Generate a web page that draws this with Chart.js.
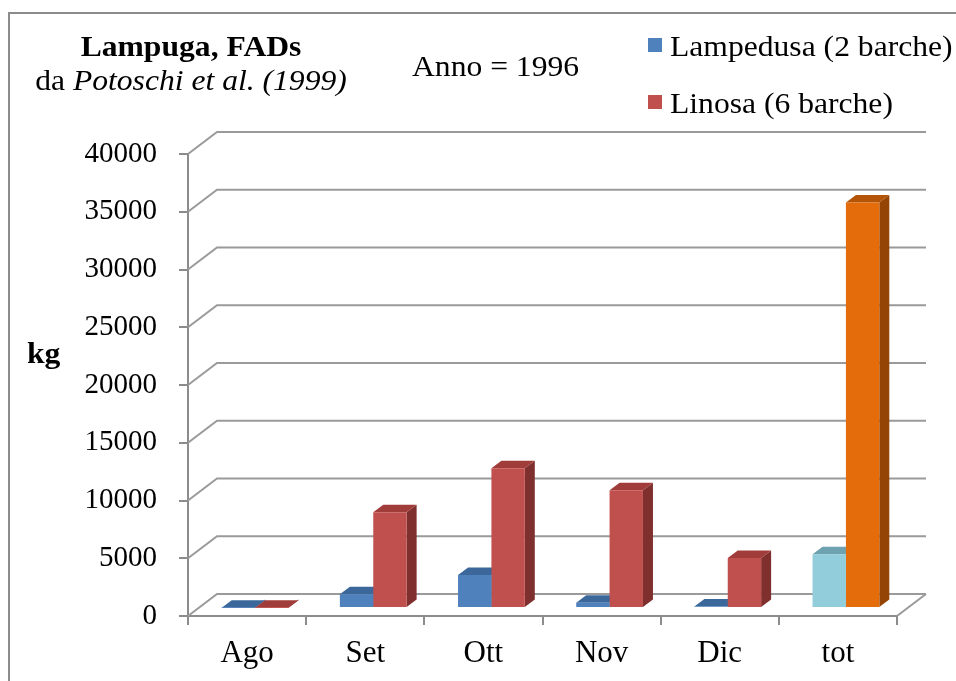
<!DOCTYPE html>
<html lang="it">
<head>
<meta charset="UTF-8">
<title>Lampuga, FADs</title>
<script src="https://cdn.jsdelivr.net/npm/chart.js"></script>
<style>
    body {
        margin: 0;
        background: #fff;
        font-family: "Liberation Serif", "Times New Roman", serif;
    }
    #wrap {
        position: relative;
        width: 956px;
        height: 681px;
        overflow: hidden;
    }
    #frame {
        position: absolute;
        left: 8px;
        top: 12px;
        width: 1000px;
        height: 700px;
        border-left: 2px solid #8c8c8c;
        border-top: 2px solid #8c8c8c;
    }
    #chart {
        position: absolute;
        left: 0;
        top: 0;
    }
    .txt {
        position: absolute;
        white-space: nowrap;
        line-height: 1;
        font-size: 29px;
        color: #000;
        transform: scaleX(1.09); /* the original text is a little wide */
        transform-origin: left top;
    }
    .mid {
        transform-origin: center top;
    }
    .box {
        position: absolute;
        width: 14px;
        height: 14px;
    }
</style>
</head>
<body>
<div id="wrap">
    <div id="frame"></div>
    <canvas id="chart" width="956" height="681"></canvas>

    <!-- titles -->
    <div class="txt mid" style="left:0; width:382px; top:32px; text-align:center; font-weight:bold;">Lampuga, FADs</div>
    <div class="txt mid" style="left:0; width:382px; top:66px; text-align:center;">da <i>Potoschi et al. (1999)</i></div>
    <div class="txt" style="left:412px; top:52px;">Anno = 1996</div>
    <div class="txt" style="left:27px; top:339px; font-weight:bold;">kg</div>

    <!-- legend -->
    <div class="box" style="left:648px; top:38px; background:#4F81BD;"></div>
    <div class="txt" style="left:670px; top:32px;">Lampedusa (2 barche)</div>
    <div class="box" style="left:648px; top:95px; background:#C0504D;"></div>
    <div class="txt" style="left:670px; top:89px;">Linosa (6 barche)</div>
</div>

<script>
    // data
    const months = ['Ago', 'Set', 'Ott', 'Nov', 'Dic', 'tot'];
    const lampedusa = [20, 1200, 2850, 450, 120, 4650];
    const linosa = [30, 8300, 12100, 10200, 4330, 35100];
    const yTicks = [0, 5000, 10000, 15000, 20000, 25000, 30000, 35000, 40000];

    // colours: front / top / side, last bar ("tot") is different
    const lampFront = ['#4F81BD', '#4F81BD', '#4F81BD', '#4F81BD', '#4F81BD', '#92CDDC'];
    const lampTop = ['#3B679A', '#3B679A', '#3B679A', '#3B679A', '#3B679A', '#6FA2B1'];
    const lampSide = ['#2F5480', '#2F5480', '#2F5480', '#2F5480', '#2F5480', '#5C8E9C'];
    const linFront = ['#C0504D', '#C0504D', '#C0504D', '#C0504D', '#C0504D', '#E46C0A'];
    const linTop = ['#A03C3A', '#A03C3A', '#A03C3A', '#A03C3A', '#A03C3A', '#B35407'];
    const linSide = ['#7F302E', '#7F302E', '#7F302E', '#7F302E', '#7F302E', '#944506'];

    const gridColor = '#8c8c8c';
    const FONT = '"Liberation Serif", "Times New Roman", serif';

    // 3d offsets
    const DX = 29, DY = -22;       // back wall
    const BX = 8, BY = -8;         // bars sit a bit behind the front plane
    const BDX = 10, BDY = -7.5;    // bar depth

    const faceColors = [[lampTop, lampSide], [linTop, linSide]];

    // draws back wall gridlines, then the sides/tops of the bars
    const fake3d = {
        id: 'fake3d',
        beforeDatasetsDraw(chart) {
            const ctx = chart.ctx;
            const a = chart.chartArea;
            const y = chart.scales.y;

            ctx.save();
            ctx.strokeStyle = '#9a9a9a';
            ctx.lineWidth = 2;
            y.ticks.forEach(t => {
                const py = y.getPixelForValue(t.value);
                ctx.beginPath();
                ctx.moveTo(a.left, py);
                ctx.lineTo(a.left + DX, py + DY);
                ctx.lineTo(a.right + DX, py + DY);
                ctx.stroke();
            });
            // right edge of the floor
            ctx.beginPath();
            ctx.moveTo(a.right, a.bottom);
            ctx.lineTo(a.right + DX, a.bottom + DY);
            ctx.stroke();
            ctx.restore();

            // bars are drawn shifted back; restored in afterDatasetsDraw
            ctx.save();
            ctx.translate(BX, BY);
            for (let i = 0; i < months.length; i++) {
                for (let d = 0; d < 2; d++) {
                    const el = chart.getDatasetMeta(d).data[i];
                    const p = el.getProps(['x', 'y', 'base', 'width'], true);
                    const l = p.x - p.width / 2, r = p.x + p.width / 2;
                    // side
                    ctx.fillStyle = faceColors[d][1][i];
                    ctx.beginPath();
                    ctx.moveTo(r, p.y);
                    ctx.lineTo(r + BDX, p.y + BDY);
                    ctx.lineTo(r + BDX, p.base + BDY);
                    ctx.lineTo(r, p.base);
                    ctx.closePath();
                    ctx.fill();
                    // top
                    ctx.fillStyle = faceColors[d][0][i];
                    ctx.beginPath();
                    ctx.moveTo(l, p.y);
                    ctx.lineTo(l + BDX, p.y + BDY);
                    ctx.lineTo(r + BDX, p.y + BDY);
                    ctx.lineTo(r, p.y);
                    ctx.closePath();
                    ctx.fill();
                }
            }
        },
        afterDatasetsDraw(chart) {
            chart.ctx.restore();
        }
    };

    new Chart(document.getElementById('chart'), {
        type: 'bar',
        data: {
            labels: months,
            datasets: [
                { label: 'Lampedusa (2 barche)', data: lampedusa, backgroundColor: lampFront, clip: false },
                { label: 'Linosa (6 barche)', data: linosa, backgroundColor: linFront, clip: false }
            ]
        },
        options: {
            responsive: false,
            animation: false,
            datasets: {
                bar: { barPercentage: 1, categoryPercentage: 0.565 }
            },
            layout: { padding: { top: 154, right: 59, bottom: 0, left: 0 } },
            plugins: {
                legend: { display: false },
                title: { display: false },
                tooltip: { enabled: false }
            },
            scales: {
                x: {
                    afterFit(scale) { scale.height = 65; },
                    grid: { drawOnChartArea: false, color: gridColor, lineWidth: 2, tickLength: 9, offset: true },
                    border: { color: gridColor, width: 2 },
                    ticks: { color: '#000', padding: 10, font: { family: FONT, size: 31 } }
                },
                y: {
                    min: 0,
                    max: 40000,
                    afterFit(scale) { scale.width = 188; },
                    afterBuildTicks(scale) { scale.ticks = yTicks.map(v => ({ value: v })); },
                    grid: { drawOnChartArea: false, color: gridColor, lineWidth: 2, tickLength: 9 },
                    border: { color: gridColor, width: 2 },
                    ticks: {
                        color: '#000',
                        padding: 22,
                        font: { family: FONT, size: 29 },
                        callback: v => String(v)
                    }
                }
            }
        },
        plugins: [fake3d]
    });
</script>
</body>
</html>
